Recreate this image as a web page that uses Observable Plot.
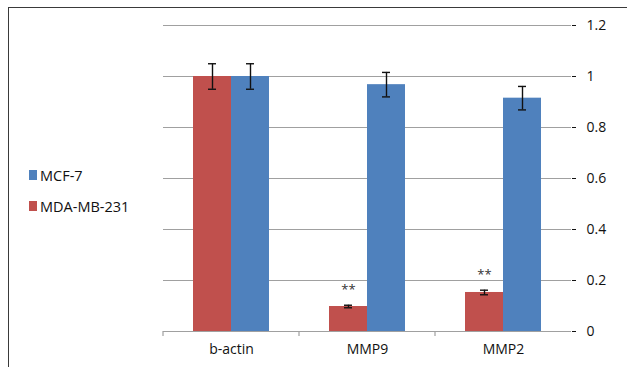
<!DOCTYPE html>
<html><head><meta charset="utf-8">
<script src="https://cdn.jsdelivr.net/npm/d3@7"></script>
<script src="https://cdn.jsdelivr.net/npm/@observablehq/plot@0.6"></script>
<style>
body{margin:0;background:#fff;font-family:"Open Sans",sans-serif;}
#wrap{position:relative;width:627px;height:367px;overflow:hidden;background:#fff;}
#border{position:absolute;left:8px;top:7px;width:700px;height:420px;border-top:1.5px solid #3a3a3a;border-left:1.5px solid #3a3a3a;}
#legend{position:absolute;left:29px;top:166px;font-size:14.5px;color:#111;}
.item{display:flex;align-items:center;height:18px;margin-bottom:13px;}
.sw{width:8px;height:10px;margin-right:3px;}
#chart{position:absolute;left:0;top:0;}
</style></head>
<body>
<div id="wrap"><div id="border"></div><div id="chart"></div><div id="legend"></div></div>
<script>
const categories = ["b-actin", "MMP9", "MMP2"];
const series = ["MDA-MB-231", "MCF-7"];
const mdaValues = [1.0, 0.098, 0.153];
const mdaErrors = [0.05, 0.005, 0.009];
const mcfValues = [1.0, 0.968, 0.915];
const mcfErrors = [0.05, 0.048, 0.046];
const mdaSignif = ["", "**", "**"];
const mcfSignif = ["", "", ""];
const yTicks = [0, 0.2, 0.4, 0.6, 0.8, 1, 1.2];
const colors = ["#C0504D", "#4F81BD"];
const legendOrder = ["MCF-7", "MDA-MB-231"];

const rows = [];
categories.forEach((c, i) => {
  rows.push({cat: c, series: series[0], value: mdaValues[i], err: mdaErrors[i], sig: mdaSignif[i]});
  rows.push({cat: c, series: series[1], value: mcfValues[i], err: mcfErrors[i], sig: mcfSignif[i]});
});

const gridStroke = "#a0a0a0";

const boundaryTicks = Plot.ruleY([0], {
  render: (index, scales) => {
    const [x0] = scales.x.range();
    const y0 = scales.y(0);
    const g = d3.create("svg:g");
    g.append("line").attr("x1", x0).attr("x2", x0).attr("y1", y0).attr("y2", y0 + 5)
      .attr("stroke", gridStroke).attr("stroke-width", 1.2);
    return g.node();
  }
});

const rightSpine = Plot.ruleY([categories[categories.length - 1]], {
  fx: d => d,
  render: (index, scales) => {
    if (!index.length) return null;
    const r = scales.x.range();
    const x1 = r[r.length - 1];
    const g = d3.create("svg:g");
    g.append("line").attr("x1", x1).attr("x2", x1)
      .attr("y1", scales.y(yTicks[yTicks.length - 1])).attr("y2", scales.y(0) + 5)
      .attr("stroke", gridStroke).attr("stroke-width", 1.2);
    return g.node();
  }
});

const plot = Plot.plot({
  width: 627,
  height: 367,
  marginLeft: 162,
  marginRight: 55,
  marginTop: 25,
  marginBottom: 36,
  style: {fontFamily: "Open Sans", fontSize: "14px", color: "#111", background: "transparent"},
  fx: {domain: categories, padding: 0, label: null, axis: "bottom", tickSize: 0, tickPadding: 13},
  x: {domain: series, paddingInner: 0, paddingOuter: 0.78, axis: null},
  y: {domain: [0, 1.2], axis: "right", ticks: yTicks, tickSize: 4, tickPadding: 11,
      tickFormat: d => String(+d.toFixed(1)), label: null},
  color: {domain: series, range: colors},
  marks: [
    Plot.ruleY(yTicks.slice(1), {stroke: gridStroke, strokeWidth: 1.2}),
    Plot.barY(rows, {fx: "cat", x: "series", y: "value", fill: "series"}),
    Plot.ruleY([0], {stroke: gridStroke, strokeWidth: 1.2}),
    boundaryTicks,
    rightSpine,
    Plot.ruleX(rows, {fx: "cat", x: "series", y1: d => d.value - d.err, y2: d => d.value + d.err, stroke: "#111", strokeWidth: 1.4}),
    Plot.tickY(rows, {fx: "cat", x: "series", y: d => d.value - d.err, stroke: "#111", strokeWidth: 1.4, insetLeft: 15, insetRight: 15}),
    Plot.tickY(rows, {fx: "cat", x: "series", y: d => d.value + d.err, stroke: "#111", strokeWidth: 1.4, insetLeft: 15, insetRight: 15}),
    Plot.text(rows.filter(d => d.sig), {fx: "cat", x: "series", y: d => d.value + d.err, text: "sig", dy: -15, fontSize: 13, fill: "#333", letterSpacing: "2px"})
  ]
});
document.getElementById("chart").appendChild(plot);

const legend = d3.select("#legend");
legendOrder.forEach(s => {
  const it = legend.append("div").attr("class", "item");
  it.append("div").attr("class", "sw").style("background", colors[series.indexOf(s)]);
  it.append("span").text(s);
});
</script>
</body></html>
